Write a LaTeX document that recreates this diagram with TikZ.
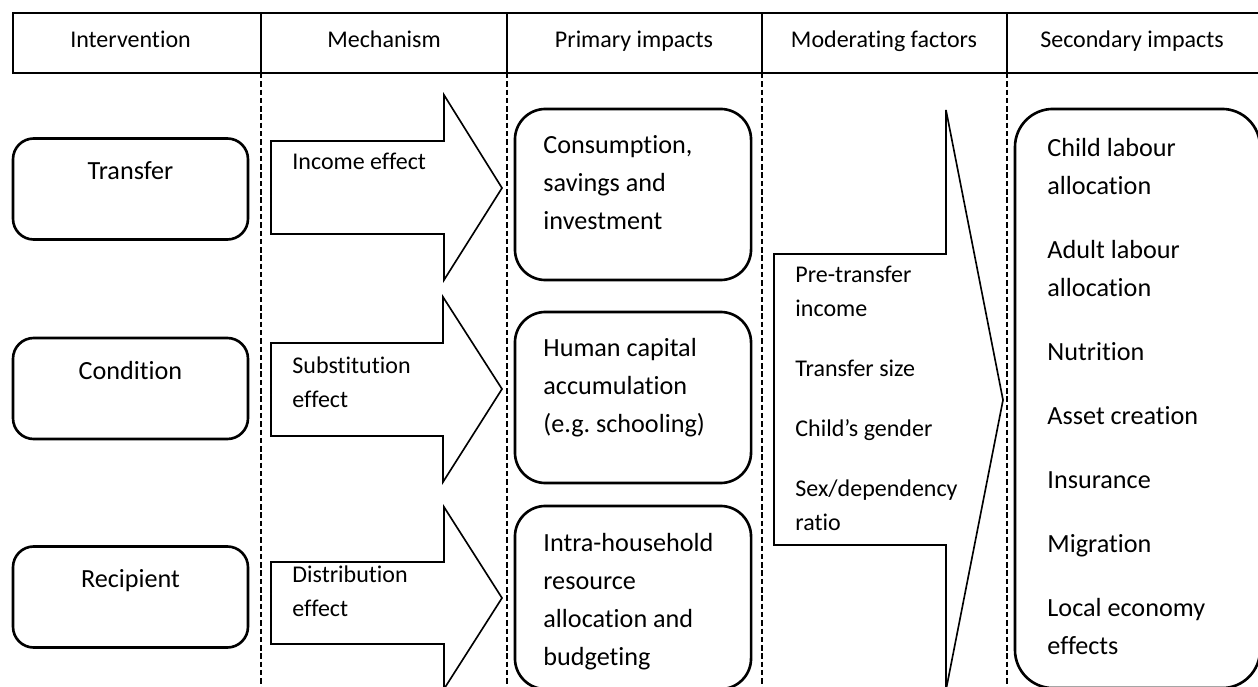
\documentclass[tikz,border=0pt]{standalone}
\usepackage{fontspec}
\setmainfont{Carlito}[Ligatures=NoCommon]
\usetikzlibrary{positioning}
\frenchspacing

\begin{document}
\begin{tikzpicture}[x=0.4583pt, y=-0.4583pt,
        hdr/.style={line width=0.9pt},
        colsep/.style={line width=0.75pt, dash pattern=on 2.5pt off 1.3pt},
        ibox/.style={draw, line width=1.2pt, rounded corners=9.5pt, minimum width=107.7pt, minimum height=46.3pt},
        pbox/.style={draw, line width=1.2pt, rounded corners=14pt, minimum width=108.2pt, minimum height=78.4pt},
        barrow/.style={draw, line width=0.75pt, line join=miter},
        smalltxt/.style={font=\fontsize{11}{15.6}\selectfont, inner sep=0pt},
        bigtxt/.style={font=\fontsize{12}{17.4}\selectfont, inner sep=0pt},
        lines/.style={align=left, anchor=north west}]
        \useasboundingbox (0,0) rectangle (1258,687);

        % header row
        \draw[hdr] (13,13) rectangle (1262,73);
        \foreach \x in {261,507,762,1007}
            \draw[hdr] (\x,13) -- (\x,73);
        \node[smalltxt, anchor=base] (hInt) at (130.5,48) {Intervention};
        \node[smalltxt, anchor=base] (hMech) at (384,48) {Mechanism};
        \node[smalltxt, anchor=base] (hPrim) at (634,48) {Primary impacts};
        \node[smalltxt, anchor=base] (hMod) at (884,48) {Moderating factors};
        \node[smalltxt, anchor=base] (hSec) at (1132,48) {Secondary impacts};

        % column separators
        \foreach \x in {261,507,762,1007}
            \draw[colsep] (\x,73) -- (\x,690);

        % intervention
        \node[ibox] (transfer) at (130.5,189) {};
        \node[ibox] (condition) at (130.5,388.5) {};
        \node[ibox] (recipient) at (130.5,597) {};
        \node[bigtxt, anchor=base] (transferT) at (130.5,179.5) {Transfer};
        \node[bigtxt, anchor=base] (conditionT) at (130.5,379.5) {Condition};
        \node[bigtxt, anchor=base] (recipientT) at (130.5,587.5) {Recipient};

        % mechanism arrows
        \draw[barrow] (271,141) -- (444,141) -- (444,95) -- (502,188) -- (444,280) -- (444,234) -- (271,234) -- cycle;
        \draw[barrow] (271,343) -- (443,343) -- (443,297) -- (502,389) -- (443,482) -- (443,436) -- (271,436) -- cycle;
        \draw[barrow] (271,562) -- (444,562) -- (444,507) -- (502,598) -- (444,689) -- (444,644) -- (271,644) -- cycle;
        \node[smalltxt, lines] (income) at (292,153) {Income effect};
        \node[smalltxt, lines] (subst) at (292,356) {Substitution\\effect};
        \node[smalltxt, lines] (distr) at (292,565) {Distribution\\effect};

        % primary impacts
        \node[pbox] (cons) at (633,194.5) {};
        \node[pbox] (human) at (633,397.5) {};
        \node[pbox, minimum height=83.9pt] (intra) at (633,597.5) {};
        \node[bigtxt, lines] (consT) at (543,135) {Consumption,\\savings and\\investment};
        \node[bigtxt, lines] (humanT) at (543,338) {Human capital\\accumulation\\(e.g. schooling)};
        \node[bigtxt, lines] (intraT) at (543,533) {Intra-household\\resource\\allocation and\\budgeting};

        % moderating factors
        \draw[barrow] (774,254) -- (946,254) -- (946,110) -- (1003,400) -- (946,690) -- (946,545) -- (774,545) -- cycle;
        \node[smalltxt, lines] (moder) at (795,266) {Pre-transfer\\income\\[11.9pt]Transfer size\\[11.9pt]Child’s gender\\[11.9pt]Sex/dependency\\ratio};

        % secondary impacts
        \node[draw, line width=1.2pt, rounded corners=17.4pt, minimum width=112.3pt, minimum height=265.4pt] (second) at (1137.5,398.5) {};
        \node[bigtxt, lines] (secondT) at (1047,138) {Child labour\\allocation\\[11.9pt]Adult labour\\allocation\\[11.9pt]Nutrition\\[11.9pt]Asset creation\\[11.9pt]Insurance\\[11.9pt]Migration\\[11.9pt]Local economy\\effects};
\end{tikzpicture}
\end{document}
